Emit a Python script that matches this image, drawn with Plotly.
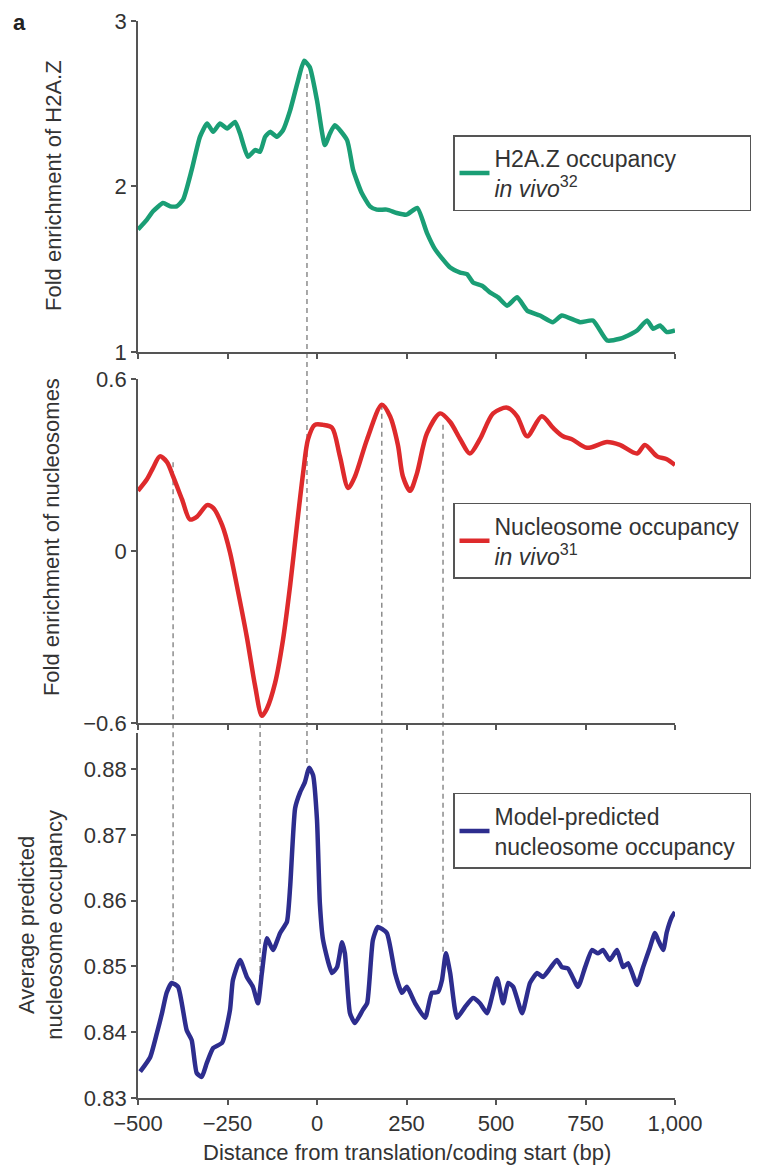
import plotly.graph_objects as go

# H2A.Z occupancy in vivo (top panel)
h2az_bp = [-500, -475, -458, -430, -410, -392, -374, -350, -327, -307, -290, -271, -251, -229,
           -215, -193, -173, -159, -145, -131, -112, -95, -75, -53, -36, -20, 0, 22, 36, 50,
           84, 101, 125, 148, 167, 195, 223, 250, 280, 307, 330, 372, 400, 419, 436, 461, 483,
           506, 531, 559, 587, 623, 659, 684, 735, 771, 810, 846, 869, 894, 922, 939, 958, 977, 1000]
h2az_val = [1.74, 1.80, 1.85, 1.90, 1.88, 1.88, 1.92, 2.10, 2.30, 2.38, 2.33, 2.38, 2.35, 2.39,
            2.32, 2.18, 2.22, 2.21, 2.30, 2.33, 2.30, 2.34, 2.46, 2.64, 2.76, 2.72, 2.52, 2.25, 2.32, 2.37,
            2.28, 2.10, 1.96, 1.88, 1.86, 1.86, 1.84, 1.83, 1.87, 1.72, 1.62, 1.51, 1.48, 1.47, 1.42, 1.40, 1.36,
            1.33, 1.28, 1.33, 1.25, 1.22, 1.18, 1.22, 1.18, 1.19, 1.07, 1.08, 1.10, 1.13, 1.19, 1.14, 1.16, 1.12, 1.13]

# Nucleosome occupancy in vivo (middle panel)
nuc_bp = [-500, -475, -458, -439, -419, -402, -377, -355, -335, -307, -290, -265, -243, -224,
          -196, -173, -154, -140, -117, -95, -75, -56, -39, -25, -6, 17, 42, 64, 87, 106, 140,
          181, 204, 226, 240, 260, 279, 307, 344, 372, 400, 427, 455, 492, 531, 559, 587, 628,
          659, 687, 712, 754, 810, 846, 894, 916, 950, 977, 1000]
nuc_val = [0.21, 0.25, 0.29, 0.33, 0.31, 0.26, 0.18, 0.11, 0.12, 0.16, 0.15, 0.09, -0.005, -0.12,
           -0.30, -0.47, -0.575, -0.55, -0.46, -0.31, -0.12, 0.09, 0.27, 0.39, 0.44, 0.44, 0.43, 0.33, 0.22, 0.26, 0.39,
           0.51, 0.47, 0.37, 0.26, 0.21, 0.27, 0.41, 0.48, 0.45, 0.39, 0.34, 0.39, 0.48, 0.50, 0.47, 0.40, 0.47,
           0.43, 0.40, 0.39, 0.36, 0.38, 0.37, 0.34, 0.37, 0.33, 0.32, 0.30]

# Model-predicted nucleosome occupancy (bottom panel)
model_bp = [-494, -466, -447, -433, -420, -406, -388, -364, -350, -336, -322, -308, -290, -265,
            -243, -235, -215, -196, -179, -165, -154, -140, -123, -103, -84, -75, -61, -47, -34,
            -22, -11, 0, 8, 17, 42, 56, 70, 78, 92, 106, 128, 140, 156, 170, 195, 218, 237, 251,
            274, 302, 321, 338, 349, 360, 372, 391, 413, 436, 455, 475, 503, 520, 534, 548, 573,
            595, 615, 631, 651, 670, 684, 701, 729, 749, 768, 785, 799, 818, 838, 855, 869, 894,
            911, 930, 944, 953, 967, 977, 991, 1000]
model_val = [0.8340, 0.8362, 0.8399, 0.8429, 0.8460, 0.8475, 0.8469, 0.8403, 0.8388, 0.8338, 0.8332,
             0.8353, 0.8376, 0.8384, 0.8434, 0.8479, 0.8510, 0.8484, 0.8469, 0.8444, 0.8490, 0.8543,
             0.8525, 0.8551, 0.8568, 0.8621, 0.8741, 0.8765, 0.8780, 0.8802, 0.8791, 0.8723, 0.8596,
             0.8540, 0.8490, 0.8499, 0.8537, 0.8520, 0.8429, 0.8414, 0.8434, 0.8444, 0.8540, 0.8560,
             0.8551, 0.8490, 0.8460, 0.8469, 0.8444, 0.8422, 0.8460, 0.8461, 0.8479, 0.8520, 0.8490,
             0.8422, 0.8438, 0.8452, 0.8444, 0.8429, 0.8482, 0.8444, 0.8475, 0.8469, 0.8429, 0.8475,
             0.8490, 0.8484, 0.8497, 0.8510, 0.8499, 0.8497, 0.8469, 0.8499, 0.8525, 0.8520, 0.8525,
             0.8510, 0.8525, 0.8499, 0.8505, 0.8472, 0.8499, 0.8529, 0.8551, 0.8540, 0.8525, 0.8552,
             0.8575, 0.8583]

x_ticks = [-500, -250, 0, 250, 500, 750, 1000]

# dashed guide lines: x position, (panel, value) where it starts and ends
guide_x = [-28, -402, -159, 181, 352]
guide_from = [(1, 2.68), (2, 0.31), (2, -0.6), (2, 0.51), (2, 0.44)]
guide_to = [(3, 0.8805), (3, 0.8472), (3, 0.8455), (3, 0.8560), (3, 0.8522)]

font = "Liberation Sans, Arial, sans-serif"
text_col = "#333333"
axis_col = "#555555"

# panel layout (paper fractions) and value ranges
domains = {1: [0.6927, 1.0], 2: [0.3482, 0.6676], 3: [0.0, 0.3389]}
ranges = {1: [1, 3], 2: [-0.6, 0.6], 3: [0.83, 0.8855]}


def to_paper(panel, v):
    lo, hi = ranges[panel]
    d0, d1 = domains[panel]
    return d0 + (v - lo) / (hi - lo) * (d1 - d0)


fig = go.Figure()
fig.add_trace(go.Scatter(x=h2az_bp, y=h2az_val, mode="lines", xaxis="x", yaxis="y",
                         line=dict(color="#1a9e75", width=4.5, shape="spline", smoothing=0.5),
                         name="H2A.Z occupancy<br><i>in vivo</i><sup>32</sup>", legend="legend"))
fig.add_trace(go.Scatter(x=nuc_bp, y=nuc_val, mode="lines", xaxis="x2", yaxis="y2",
                         line=dict(color="#de2a2c", width=4.5, shape="spline", smoothing=0.8),
                         name="Nucleosome occupancy<br><i>in vivo</i><sup>31</sup>", legend="legend2"))
fig.add_trace(go.Scatter(x=model_bp, y=model_val, mode="lines", xaxis="x3", yaxis="y3",
                         line=dict(color="#2d2d8e", width=4.5, shape="spline", smoothing=0.5),
                         name="Model-predicted<br>nucleosome occupancy", legend="legend3"))

# dashed guides across panels
for gx, (p0, v0), (p1, v1) in zip(guide_x, guide_from, guide_to):
    fig.add_shape(type="line", xref="x3", yref="paper", x0=gx, x1=gx,
                  y0=to_paper(p0, v0), y1=to_paper(p1, v1),
                  line=dict(color="#7a7a7a", width=1.3, dash="5px,4px"), layer="below")

axis_common = dict(showline=True, linecolor=axis_col, linewidth=1.8, ticks="outside",
                   ticklen=5, tickwidth=1.5, tickcolor=axis_col, showgrid=False, zeroline=False,
                   automargin=False, tickfont=dict(size=22, color=text_col, family=font))

xax = dict(axis_common, range=[-500, 1000], tickvals=x_ticks, tickformat=",d")
fig.update_layout(
    xaxis=dict(xax, anchor="y", showticklabels=False),
    xaxis2=dict(xax, anchor="y2", matches="x", showticklabels=False),
    xaxis3=dict(xax, anchor="y3", matches="x"),
    yaxis=dict(axis_common, domain=domains[1], range=ranges[1], tickvals=[1, 2, 3], anchor="x"),
    yaxis2=dict(axis_common, domain=domains[2], range=ranges[2], tickvals=[-0.6, 0, 0.6], anchor="x2"),
    yaxis3=dict(axis_common, domain=domains[3], range=ranges[3],
                tickvals=[0.83, 0.84, 0.85, 0.86, 0.87, 0.88], tickformat=".2f", anchor="x3"),
)

leg_common = dict(font=dict(size=23, color=text_col, family=font), bgcolor="white",
                  bordercolor="#555555", borderwidth=1.5, xanchor="left", yanchor="top",
                  orientation="h", entrywidth=250, entrywidthmode="pixels")
fig.update_layout(
    legend=dict(leg_common, x=0.5866, y=0.894),
    legend2=dict(leg_common, x=0.5866, y=0.5525),
    legend3=dict(leg_common, x=0.5866, y=0.2832),
)

# axis titles and panel letter
ann = dict(xref="paper", yref="paper", showarrow=False, xanchor="center", yanchor="middle",
           font=dict(size=22, color=text_col, family=font))
fig.add_annotation(ann, text="Fold enrichment of H2A.Z", x=-0.1564, y=0.8468, textangle=-90)
fig.add_annotation(ann, text="Fold enrichment of nucleosomes", x=-0.160, y=0.5209, textangle=-90)
fig.add_annotation(ann, text="Average predicted<br>nucleosome occupancy", x=-0.181, y=0.1606, textangle=-90)
fig.add_annotation(ann, text="Distance from translation/coding start (bp)", x=0.5, y=-0.051)
fig.add_annotation(dict(ann, font=dict(size=22, color="#222222", family=font)),
                   text="<b>a</b>", x=-0.22, y=0.999)

# page body has an 8px margin, so the figure is 8px smaller than the window
fig.update_layout(width=759, height=1159, plot_bgcolor="white", paper_bgcolor="white",
                  margin=dict(l=130, r=92, t=13, b=69), showlegend=True)

fig.write_html("out.html")
